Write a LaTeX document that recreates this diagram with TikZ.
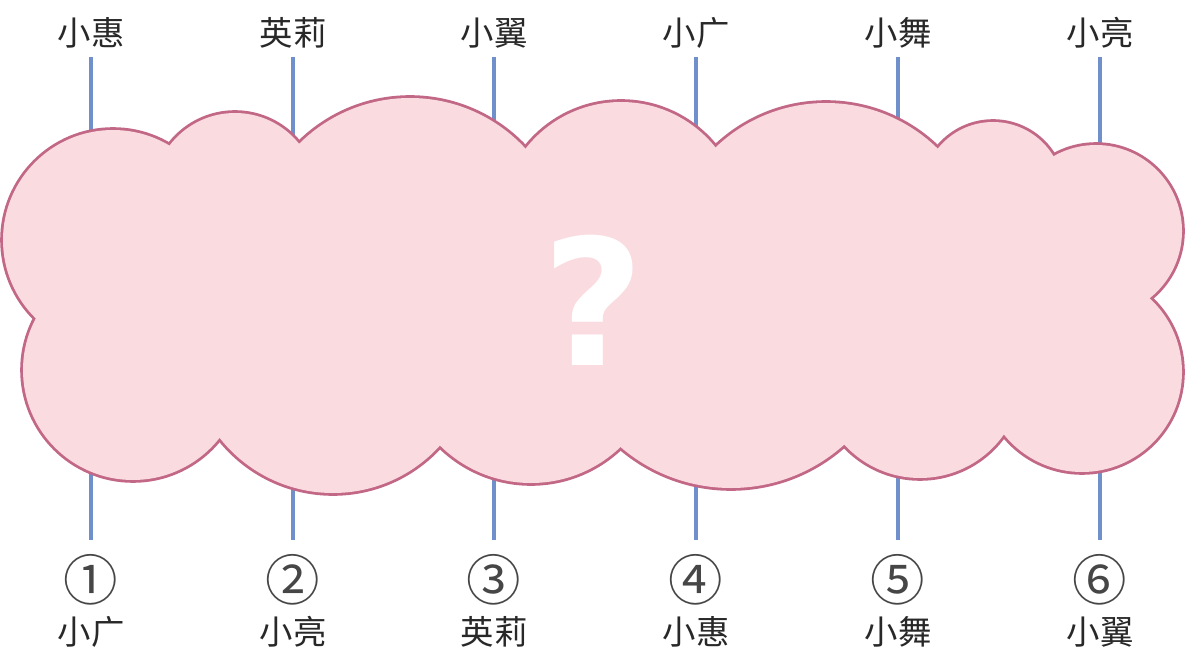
\documentclass[tikz,border=0pt]{standalone}
\usepackage{fontspec}
\setmainfont{Noto Sans CJK SC}
\newfontfamily\qfont{DejaVu Sans}
\definecolor{cloudfill}{RGB}{250,219,224}
\definecolor{cloudline}{RGB}{194,104,134}
\definecolor{linkblue}{RGB}{112,144,204}
\definecolor{txt}{RGB}{40,40,40}
\definecolor{numtxt}{RGB}{70,70,70}
\begin{document}
\begin{tikzpicture}[x=0.02cm,y=-0.02cm,
  lab/.style={font=\fontsize{19}{19}\selectfont, text=txt, inner sep=0pt},
  num/.style={font=\fontsize{31}{31}\selectfont, text=numtxt, inner sep=0pt},
  link/.style={draw=linkblue, line width=2.2pt},
  lobeline/.style={draw=cloudline, line width=3.2pt},
  lobefill/.style={fill=cloudfill}]
\useasboundingbox (0,0) rectangle (1189,655);
\fill[white] (0,0) rectangle (1189,655);
% labels
\foreach \i/\x/\top/\bot/\n in {1/91/小惠/小广/①,2/293/英莉/小亮/②,3/494/小翼/英莉/③,4/696/小广/小惠/④,5/898/小舞/小舞/⑤,6/1100/小亮/小翼/⑥}{
  \node[lab] (t\i) at (\x,33) {\top};
  \node[num] (n\i) at (\x,580) {\n};
  \node[lab] (b\i) at (\x,632) {\bot};
  \coordinate (lt\i) at (\x,57);
  \coordinate (lb\i) at (\x,540);
  \draw[link] (lt\i) -- (lb\i);
}
% cloud: strokes first
\foreach \cx/\cy/\r in {113/240/110,235/195/82,410/255/157,621/223/121,826/262.5/159.5,993/192.5/70.5,1096/231/86,1082/372/100,920/375.5/102.5,531/353.75/129.25,333/348.9/144.1,133/370/110}
  \draw[lobeline] (\cx,\cy) circle[radius=\r];
\begin{scope}
  \clip (0,240) rectangle (1189,655);
  \draw[lobeline] (731,318.6) circle[radius=169.4];
\end{scope}
% fills
\foreach \cx/\cy/\r in {113/240/110,235/195/82,410/255/157,621/223/121,826/262.5/159.5,993/192.5/70.5,1096/231/86,1082/372/100,920/375.5/102.5,531/353.75/129.25,333/348.9/144.1,133/370/110}
  \fill[lobefill] (\cx,\cy) circle[radius=\r];
\begin{scope}
  \clip (0,240) rectangle (1189,655);
  \fill[lobefill] (731,318.6) circle[radius=169.4];
\end{scope}
\fill[lobefill] (48,318) -- (170,157) -- (299,156) -- (526,161) -- (715,159) -- (937,160) -- (1050,168) -- (1137,298) -- (1003,422) -- (844,432) -- (620,435) -- (440,433) -- (222,425) -- cycle;
\node[font=\qfont\bfseries\fontsize{100}{100}\selectfont, text=white, inner sep=0pt] (q) at (593,300) {?};
\end{tikzpicture}
\end{document}
